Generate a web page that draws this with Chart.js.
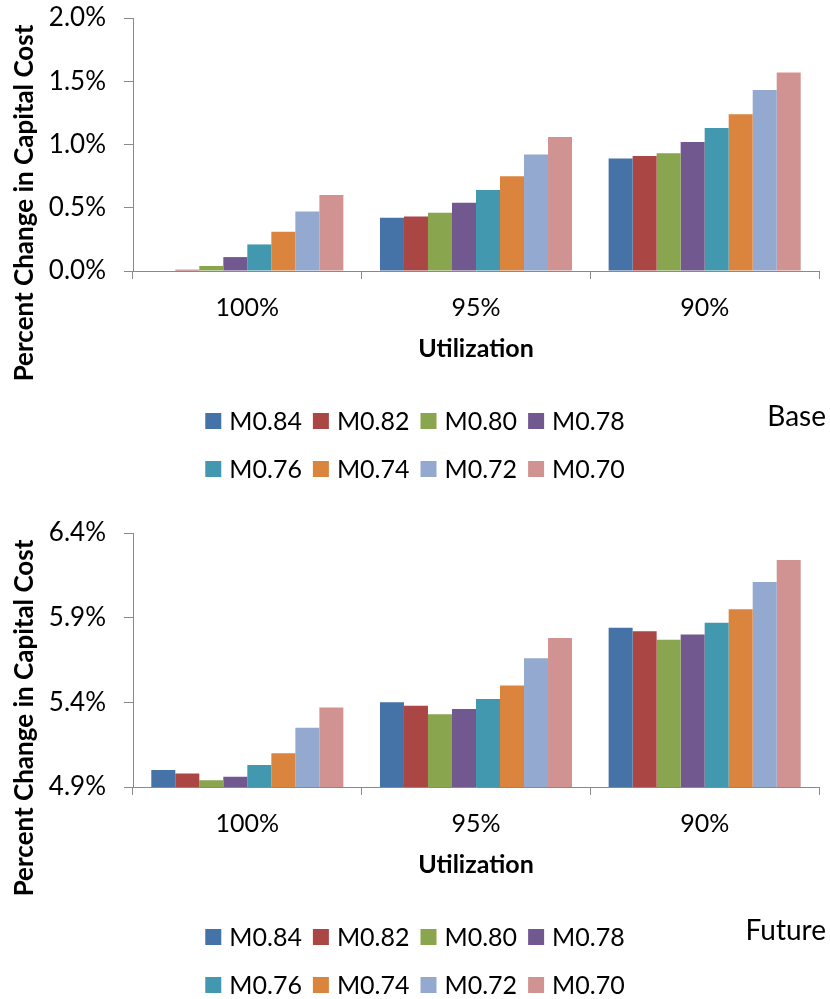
<!DOCTYPE html>
<html>
<head>
<meta charset="utf-8">
<script src="https://cdn.jsdelivr.net/npm/chart.js@4.4.1/dist/chart.umd.min.js"></script>
<style>
  html, body { margin: 0; padding: 0; background: #fff; }
  canvas { display: block; }
</style>
</head>
<body>
<canvas id="grafico-base" width="830" height="505"></canvas>
<canvas id="grafico-future" width="830" height="494"></canvas>
<script>
// categories and series
const utilizacao = ['100%', '95%', '90%'];
const series = ['M0.84', 'M0.82', 'M0.80', 'M0.78', 'M0.76', 'M0.74', 'M0.72', 'M0.70'];
const cores = ['#4572A7', '#AA4643', '#89A54E', '#71588F', '#4198AF', '#DB843D', '#93A9CF', '#D19392'];

// Base case, percent change (one array per series: 100%, 95%, 90%)
const baseM084 = [0.00, 0.42, 0.89];
const baseM082 = [0.01, 0.43, 0.91];
const baseM080 = [0.04, 0.46, 0.93];
const baseM078 = [0.11, 0.54, 1.02];
const baseM076 = [0.21, 0.64, 1.13];
const baseM074 = [0.31, 0.75, 1.24];
const baseM072 = [0.47, 0.92, 1.43];
const baseM070 = [0.60, 1.06, 1.57];

// Future case
const futM084 = [5.00, 5.40, 5.84];
const futM082 = [4.98, 5.38, 5.82];
const futM080 = [4.94, 5.33, 5.77];
const futM078 = [4.96, 5.36, 5.80];
const futM076 = [5.03, 5.42, 5.87];
const futM074 = [5.10, 5.50, 5.95];
const futM072 = [5.25, 5.66, 6.11];
const futM070 = [5.37, 5.78, 6.24];

// y axis ticks
const baseTicks = { min: 0, max: 2.0, step: 0.5 };
const futTicks = { min: 4.9, max: 6.4, step: 0.5 };

const FONTE = 'Lato, "Noto Sans", sans-serif';
const CINZA = '#898989';
Chart.defaults.font.family = FONTE;
Chart.defaults.color = '#000';

// draws the y title, the two-row legend and the case note
const legendaPlugin = {
  id: 'legendaLinhas',
  afterDraw(chart, args, opts) {
    const ctx = chart.ctx;
    const area = chart.chartArea;
    ctx.save();

    // y axis title
    ctx.font = 'bold 26px ' + FONTE;
    ctx.fillStyle = '#000';
    ctx.textAlign = 'center';
    ctx.textBaseline = 'middle';
    ctx.translate(25, area.top + 185);
    ctx.rotate(-Math.PI / 2);
    ctx.fillText('Percent Change in Capital Cost', 0, 0);
    ctx.setTransform(1, 0, 0, 1, 0, 0);

    // legend, 4 items per row, centered
    ctx.font = '25px ' + FONTE;
    ctx.textAlign = 'left';
    const ds = chart.data.datasets;
    const caixa = 16;
    for (let linha = 0; linha < 2; linha++) {
      const itens = ds.slice(linha * 4, linha * 4 + 4);
      const larguras = itens.map(d => caixa + 8 + ctx.measureText(d.label).width);
      const total = larguras.reduce((a, b) => a + b, 0) + 11 * (itens.length - 1);
      let x = chart.width / 2 - total / 2;
      const y = area.bottom + 150 + linha * 48;
      itens.forEach((d, i) => {
        ctx.fillStyle = d.backgroundColor;
        ctx.fillRect(x, y - caixa / 2, caixa, caixa);
        ctx.fillStyle = '#000';
        ctx.fillText(d.label, x + caixa + 8, y + 1);
        x += larguras[i] + 11;
      });
    }

    // case note at the right
    ctx.font = '28px ' + FONTE;
    ctx.textAlign = 'right';
    ctx.fillText(opts.nota, 826, area.bottom + opts.notaY);
    ctx.restore();
  }
};

function criarGrafico(id, valores, ticks, nota, notaY, topo, baixo) {
  const ctx = document.getElementById(id).getContext('2d');
  return new Chart(ctx, {
    type: 'bar',
    data: {
      labels: utilizacao,
      datasets: series.map((nome, i) => ({
        label: nome,
        data: valores[i],
        backgroundColor: cores[i],
        borderWidth: 0,
        barPercentage: 1.0,
        categoryPercentage: 0.84
      }))
    },
    options: {
      responsive: false,
      animation: false,
      layout: { padding: { top: topo, right: 11, left: 0, bottom: baixo } },
      plugins: {
        legend: { display: false },
        tooltip: { enabled: false },
        legendaLinhas: { nota: nota, notaY: notaY }
      },
      scales: {
        x: {
          grid: { display: true, drawOnChartArea: false, color: CINZA, tickLength: 8, offset: true },
          border: { display: true, color: CINZA, width: 1 },
          ticks: { font: { size: 25 }, padding: 14, color: '#000' },
          title: { display: true, text: 'Utilization', font: { size: 25, weight: 'bold' }, color: '#000', padding: { top: 0, bottom: 7 } },
          afterFit(scale) { scale.height = 100; }
        },
        y: {
          min: ticks.min,
          max: ticks.max,
          grid: { display: true, drawOnChartArea: false, color: CINZA, tickLength: 9 },
          border: { display: true, color: CINZA, width: 1 },
          ticks: {
            stepSize: ticks.step,
            font: { size: 26 },
            padding: 18,
            color: '#000',
            callback: v => v.toFixed(1) + '%'
          },
          afterFit(scale) {
            scale.width = 133;
            scale.paddingTop = 0;
            scale.paddingBottom = 0;
          }
        }
      }
    },
    plugins: [legendaPlugin]
  });
}

criarGrafico('grafico-base',
  [baseM084, baseM082, baseM080, baseM078, baseM076, baseM074, baseM072, baseM070],
  baseTicks, 'Base', 146, 18, 134);

criarGrafico('grafico-future',
  [futM084, futM082, futM080, futM078, futM076, futM074, futM072, futM070],
  futTicks, 'Future', 144, 28, 112);
</script>
</body>
</html>
